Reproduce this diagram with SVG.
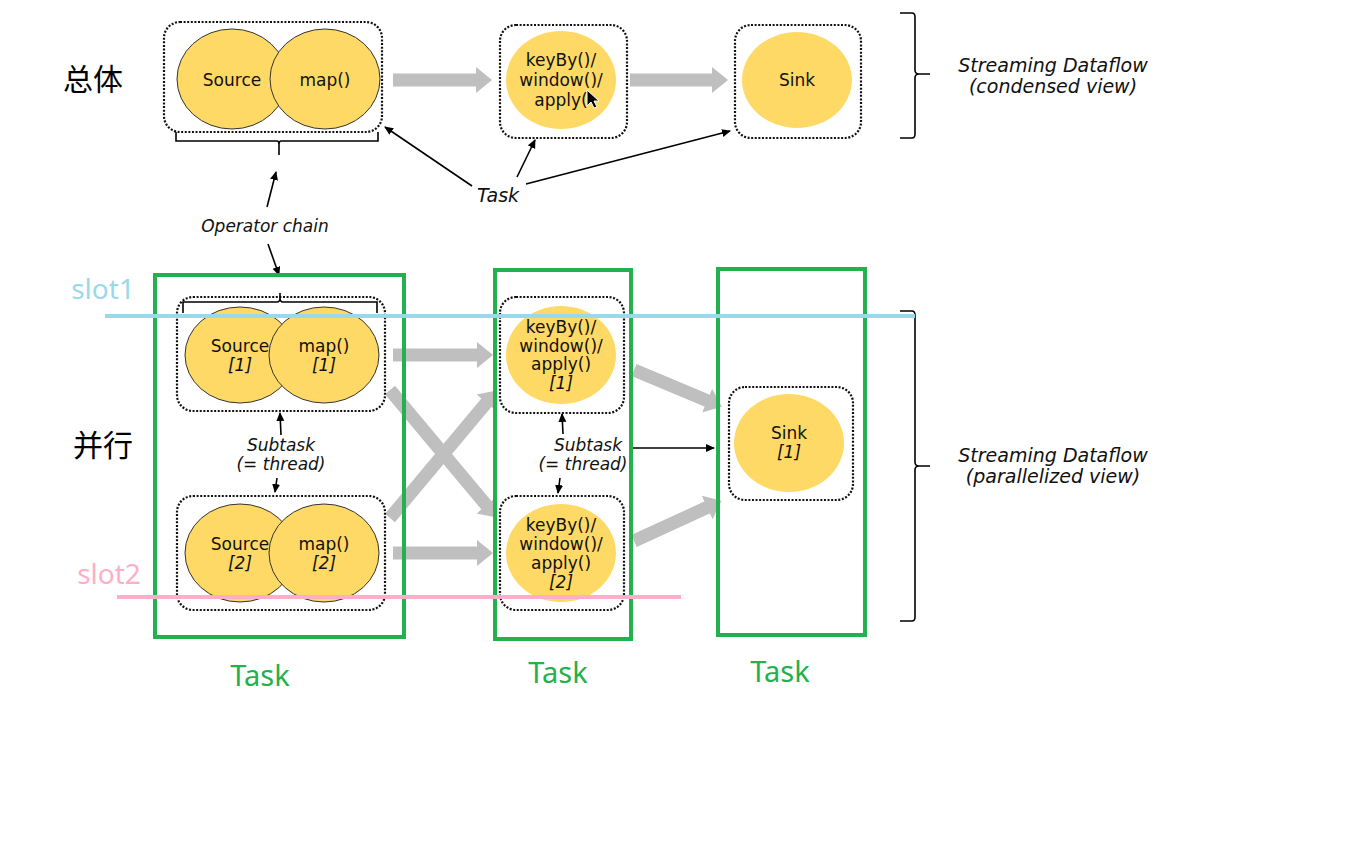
<svg xmlns="http://www.w3.org/2000/svg" width="1369" height="842" viewBox="0 0 1369 842">
<defs>
<marker id="gh" markerUnits="userSpaceOnUse" markerWidth="18" markerHeight="28" refX="1" refY="13" orient="auto"><path d="M0,0 L16,13 L0,26 Z" fill="#bfbfbf"/></marker>
<marker id="bh" markerUnits="userSpaceOnUse" markerWidth="10" markerHeight="10" refX="8" refY="4" orient="auto"><path d="M0,0 L9,4 L0,8 Z" fill="#000"/></marker>
<style>
.box{fill:none;stroke:#111;stroke-width:2.2;stroke-dasharray:2 1.6}
.op{fill:#ffd966;stroke:#333;stroke-width:1}
.opn{fill:#ffd966;stroke:none}
.t{font-family:"DejaVu Sans",sans-serif;font-size:17px;fill:#111;text-anchor:middle}
.i{font-family:"DejaVu Sans",sans-serif;font-size:17px;font-style:italic;fill:#111;text-anchor:middle}
.lab{font-family:"DejaVu Sans",sans-serif;font-size:19px;font-style:italic;fill:#111;text-anchor:middle}
.ga{stroke:#bfbfbf;stroke-width:13;fill:none;marker-end:url(#gh)}
.bl{stroke:#000;stroke-width:1.6;fill:none;marker-end:url(#bh)}
.br{stroke:#000;stroke-width:1.6;fill:none}
.green{fill:none;stroke:#22b14c;stroke-width:4}
.gt{font-family:"Noto Sans","Noto Sans CJK SC",sans-serif;font-size:29px;fill:#22b14c;text-anchor:middle}
.cn{font-family:"Noto Sans CJK SC",sans-serif;font-size:30px;fill:#000;text-anchor:middle}
</style>
</defs>
<rect width="1369" height="842" fill="#fff"/>

<g id="connectors">
<line class="ga" x1="393" y1="80" x2="477" y2="80"/>
<line class="ga" x1="630" y1="80" x2="713" y2="80"/>
<line class="ga" x1="393" y1="355" x2="478" y2="355"/>
<line class="ga" x1="393" y1="553" x2="478" y2="553"/>
<line class="ga" x1="390" y1="390" x2="487" y2="506"/>
<line class="ga" x1="390" y1="518" x2="487" y2="402"/>
<line class="ga" x1="634" y1="370" x2="708" y2="401"/>
<line class="ga" x1="634" y1="541" x2="708" y2="507"/>
<line class="bl" x1="472" y1="186" x2="385" y2="127"/>
<line class="bl" x1="517" y1="177" x2="535" y2="140"/>
<line class="bl" x1="526" y1="184" x2="730" y2="131"/>
<line class="bl" x1="267" y1="207" x2="276" y2="172"/>
<line class="bl" x1="268" y1="244" x2="279" y2="275"/>
<line class="bl" x1="281" y1="435" x2="280" y2="413"/>
<line class="bl" x1="277" y1="478" x2="275" y2="492"/>
<line class="bl" x1="563" y1="434" x2="562" y2="414"/>
<line class="bl" x1="560" y1="478" x2="558" y2="493"/>
<line class="bl" x1="632" y1="448" x2="714" y2="448"/>
</g>

<g id="chain-top">
<rect class="box" x="164" y="22" width="218" height="110" rx="16"/>
<ellipse class="op" cx="232" cy="79" rx="55" ry="50"/>
<ellipse class="op" cx="325" cy="79" rx="55" ry="50"/>
<text class="t" x="232" y="86">Source</text>
<text class="t" x="325" y="86">map()</text>
<path class="br" d="M176,132 V141 H277 Q279,141 279,145 V155 M279,145 Q279,141 281,141 H378 V132"/>
</g>

<g id="keyby-top">
<rect class="box" x="500" y="25" width="127" height="113" rx="16"/>
<ellipse class="opn" cx="561" cy="80" rx="55" ry="49"/>
<text class="t" x="561" y="66">keyBy()/</text>
<text class="t" x="561" y="86">window()/</text>
<text class="t" x="561" y="106">apply(</text>
<path d="M587,90 L587,106 L591,102 L594,108 L597,107 L594,101 L599,101 Z" fill="#000" stroke="#fff" stroke-width="1"/>
</g>

<g id="sink-top">
<rect class="box" x="735" y="25" width="126" height="113" rx="16"/>
<ellipse class="opn" cx="797" cy="80" rx="55" ry="48"/>
<text class="t" x="797" y="86">Sink</text>
</g>

<g id="brace-top">
<path class="br" d="M900,13 H912 Q915,13 915,17 V70 Q915,74 919,74 H930 M919,74 Q915,74 915,78 V134 Q915,138 912,138 H900"/>
<text class="lab" x="1053" y="72">Streaming Dataflow</text>
<text class="lab" x="1053" y="93">(condensed view)</text>
</g>

<g id="task-label"><text class="lab" x="498" y="202">Task</text></g>
<g id="opchain-label"><text class="i" x="265" y="232">Operator chain</text></g>

<g id="chain1">
<rect class="box" x="177" y="297" width="208" height="114" rx="16"/>
<ellipse class="op" cx="240" cy="355" rx="55" ry="48"/>
<ellipse class="op" cx="324" cy="355" rx="55" ry="48"/>
<text class="t" x="240" y="352">Source</text>
<text class="i" x="240" y="371">[1]</text>
<text class="t" x="324" y="352">map()</text>
<text class="i" x="324" y="371">[1]</text>
<path class="br" d="M183,313 V302 H277 Q280,302 280,298 V293 M280,298 Q280,302 283,302 H377 V313"/>
</g>

<g id="chain2">
<rect class="box" x="177" y="496" width="208" height="114" rx="16"/>
<ellipse class="op" cx="240" cy="553" rx="55" ry="49"/>
<ellipse class="op" cx="324" cy="553" rx="55" ry="49"/>
<text class="t" x="240" y="550">Source</text>
<text class="i" x="240" y="569">[2]</text>
<text class="t" x="324" y="550">map()</text>
<text class="i" x="324" y="569">[2]</text>
</g>

<g id="subtask1">
<text class="i" x="281" y="451">Subtask</text>
<text class="i" x="281" y="470">(= thread)</text>
</g>

<g id="keyby1">
<rect class="box" x="500" y="297" width="124" height="116" rx="16"/>
<ellipse class="opn" cx="561" cy="355" rx="55" ry="49"/>
<text class="t" x="561" y="333">keyBy()/</text>
<text class="t" x="561" y="352">window()/</text>
<text class="t" x="561" y="370">apply()</text>
<text class="i" x="561" y="389">[1]</text>
</g>

<g id="keyby2">
<rect class="box" x="500" y="496" width="124" height="114" rx="16"/>
<ellipse class="opn" cx="561" cy="553" rx="55" ry="49"/>
<text class="t" x="561" y="531">keyBy()/</text>
<text class="t" x="561" y="550">window()/</text>
<text class="t" x="561" y="569">apply()</text>
<text class="i" x="561" y="588">[2]</text>
</g>

<g id="subtask2">
<text class="i" x="588" y="451">Subtask</text>
<text class="i" x="583" y="470">(= thread)</text>
</g>

<g id="sink1">
<rect class="box" x="729" y="387" width="124" height="113" rx="16"/>
<ellipse class="opn" cx="789" cy="443" rx="55" ry="49"/>
<text class="t" x="789" y="439">Sink</text>
<text class="i" x="789" y="458">[1]</text>
</g>

<g id="brace-bottom">
<path class="br" d="M900,311 H912 Q915,311 915,315 V462 Q915,466 919,466 H930 M919,466 Q915,466 915,470 V617 Q915,621 912,621 H900"/>
<text class="lab" x="1053" y="462">Streaming Dataflow</text>
<text class="lab" x="1053" y="483">(parallelized view)</text>
</g>

<g id="tasks">
<rect class="green" x="155" y="275" width="249" height="362"/>
<rect class="green" x="495" y="270" width="136" height="369"/>
<rect class="green" x="718" y="269" width="147" height="366"/>
<text class="gt" x="260" y="686">Task</text>
<text class="gt" x="558" y="683">Task</text>
<text class="gt" x="780" y="682">Task</text>
</g>

<g id="slots">
<line x1="105" y1="316" x2="915" y2="316" stroke="#99d9ea" stroke-width="4"/>
<line x1="117" y1="597" x2="681" y2="597" stroke="#ffaec9" stroke-width="4"/>
<text x="103" y="299" font-family="Noto Sans, sans-serif" font-size="28" fill="#99d9ea" text-anchor="middle">slot1</text>
<text x="109" y="584" font-family="Noto Sans, sans-serif" font-size="28" fill="#ffaec9" text-anchor="middle">slot2</text>
</g>

<g id="labels-cn">
<text class="cn" x="93" y="90">总体</text>
<text class="cn" x="103" y="456">并行</text>
</g>
</svg>
